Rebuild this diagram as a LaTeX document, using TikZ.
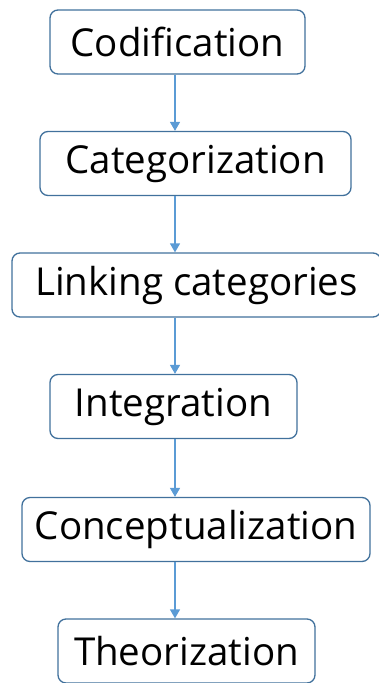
\documentclass[tikz,border=0pt]{standalone}
\usepackage{fontspec}
\setmainfont{Open Sans}
\usetikzlibrary{arrows.meta}
\definecolor{boxblue}{HTML}{41719C}
\definecolor{arrblue}{HTML}{5B9BD5}
\begin{document}
\begin{tikzpicture}[
  x=1pt,y=-1pt,
  font=\fontsize{38.5}{42}\selectfont,
  stage/.style={draw=boxblue,line width=1.3pt,rounded corners=8pt,fill=white,align=center,inner sep=0pt,minimum width=#1,minimum height=64pt},
  stage/.default=250pt,
  flow/.style={draw=arrblue,line width=1.5pt},
  >={Triangle[length=9pt,width=10pt]}]
\useasboundingbox (0,0) rectangle (379,683);
% ---- stages, top to bottom
\coordinate (xarr) at (175,0);
\node[stage=255pt] (cod) at (177.5,42) {Codification};
\node[stage=311pt] (cat) at (195.5,163.5) {Categorization};
\node[stage=369pt] (lnk) at (196.5,285) {Linking categories};
\node[stage=247pt] (int) at (173.5,406.5) {Integration};
\node[stage=348pt] (con) at (196,529.5) {Conceptualization};
\node[stage=257pt] (the) at (186.5,651) {Theorization};
% ---- arrows
\draw[flow,->] (cod.south -| xarr) -- (cat.north -| xarr);
\draw[flow,->] (cat.south -| xarr) -- (lnk.north -| xarr);
\draw[flow,->] (lnk.south -| xarr) -- (int.north -| xarr);
\draw[flow,->] (int.south -| xarr) -- (con.north -| xarr);
\draw[flow,->] (con.south -| xarr) -- (the.north -| xarr);
\end{tikzpicture}
\end{document}
